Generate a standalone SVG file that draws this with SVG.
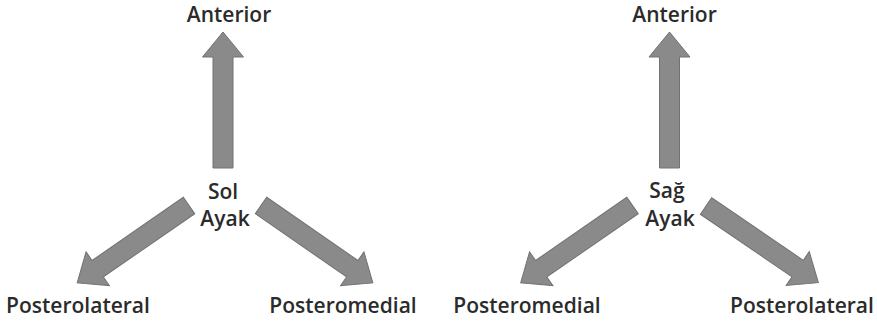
<svg xmlns="http://www.w3.org/2000/svg" width="877" height="324" viewBox="0 0 877 324">
<defs>
<style>
.lbl{font-family:"Open Sans","Liberation Sans",sans-serif;font-weight:600;font-size:21px;fill:#2b2b2b;text-anchor:middle}
.arr{fill:#8a8a8a;stroke:#727272;stroke-width:1;stroke-linejoin:miter}
</style>
<path id="arrow" class="arr" d="M0,-10 L111,-10 L111,-20.5 L136,0 L111,20.5 L111,10 L0,10 Z"/>
</defs>
<rect width="877" height="324" fill="#ffffff"/>
<g id="connectors">
<use href="#arrow" transform="translate(223,168) rotate(-90)"/>
<use href="#arrow" transform="translate(189,205.5) rotate(145.3)"/>
<use href="#arrow" transform="translate(261,205.5) rotate(34.7)"/>
<use href="#arrow" transform="translate(669.5,168) rotate(-90)"/>
<use href="#arrow" transform="translate(632.5,205.5) rotate(145.3)"/>
<use href="#arrow" transform="translate(706,206) rotate(34.3)"/>
</g>
<g id="left-center"><text class="lbl" x="223" y="199">Sol</text><text class="lbl" x="225" y="226">Ayak</text></g>
<g id="left-anterior"><text class="lbl" x="229" y="22">Anterior</text></g>
<g id="left-posterolateral"><text class="lbl" x="78" y="313">Posterolateral</text></g>
<g id="left-posteromedial"><text class="lbl" x="343" y="313">Posteromedial</text></g>
<g id="right-center"><text class="lbl" x="667" y="198">Sağ</text><text class="lbl" x="670" y="226">Ayak</text></g>
<g id="right-anterior"><text class="lbl" x="674.5" y="22">Anterior</text></g>
<g id="right-posteromedial"><text class="lbl" x="527" y="313">Posteromedial</text></g>
<g id="right-posterolateral"><text class="lbl" x="802" y="313">Posterolateral</text></g>
</svg>
